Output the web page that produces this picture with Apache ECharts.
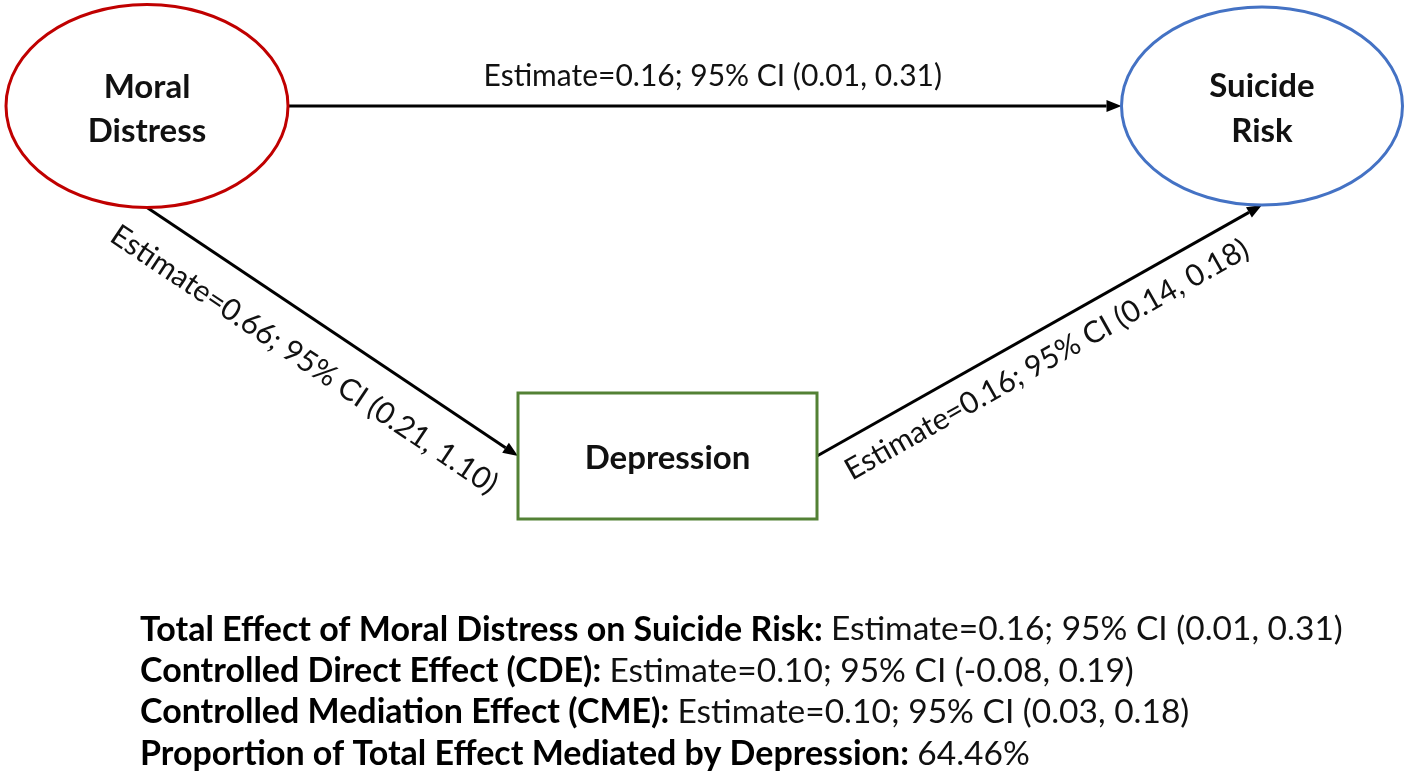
<!DOCTYPE html>
<html><head><meta charset="utf-8">
<script src="https://cdn.jsdelivr.net/npm/echarts@6/dist/echarts.min.js"></script>
<style>html,body{margin:0;padding:0;background:#fff}#c{width:1409px;height:782px}</style>
</head><body><div id="c"></div>
<script>
// ---- data ----
const nodeNames = ['Moral Distress', 'Suicide Risk', 'Depression'];
const nodeLabels = ['Moral\nDistress', 'Suicide\nRisk', 'Depression'];
const pathSources = ['Moral Distress', 'Moral Distress', 'Depression'];
const pathTargets = ['Suicide Risk', 'Depression', 'Suicide Risk'];
const pathEstimates = [0.16, 0.66, 0.16];
const pathCILower = [0.01, 0.21, 0.14];
const pathCIUpper = [0.31, 1.10, 0.18];
const effectNames = ['Total Effect of Moral Distress on Suicide Risk:', 'Controlled Direct Effect (CDE):', 'Controlled Mediation Effect (CME):'];
const effectEstimates = [0.16, 0.10, 0.10];
const effectCILower = [0.01, -0.08, 0.03];
const effectCIUpper = [0.31, 0.19, 0.18];
const proportionName = 'Proportion of Total Effect Mediated by Depression:';
const proportionMediated = 64.46;

// ---- layout (positions / sizes / styles) ----
const FONT = 'Lato, "Open Sans", sans-serif';
const nodeLayout = {
  'Moral Distress': { cx: 147, cy: 106, w: 282, h: 203, shape: 'ellipse', color: '#C00000', labelDy: 3.5 },
  'Suicide Risk':   { cx: 1262, cy: 106, w: 281, h: 198, shape: 'ellipse', color: '#4472C4', labelDy: 3 },
  'Depression':     { cx: 667.5, cy: 456, w: 299, h: 126, shape: 'rect', color: '#538135', labelDy: 2 }
};
const edgeLayout = [
  { from: 'right', to: 'left', labelOffset: -30, labelShift: 8 },
  { from: 'bottom', to: 'left', labelOffset: 39, labelShift: -8 },
  { from: 'right', to: 'bottom', labelOffset: 29, labelShift: -8 }
];
function anchor(name, side) {
  const n = nodeLayout[name];
  if (side === 'right') return [n.cx + n.w / 2, n.cy];
  if (side === 'left') return [n.cx - n.w / 2, n.cy];
  if (side === 'bottom') return [n.cx, n.cy + n.h / 2];
  return [n.cx, n.cy - n.h / 2];
}
const fmt = v => v.toFixed(2);

const nodeData = nodeNames.map((nm, i) => {
  const n = nodeLayout[nm];
  return [n.cx, n.cy, n.w, n.h, i];
});
const edgeData = pathSources.map((s, i) => {
  const a = anchor(s, edgeLayout[i].from);
  const b = anchor(pathTargets[i], edgeLayout[i].to);
  return [a[0], a[1], b[0], b[1], i];
});

const chart = echarts.init(document.getElementById('c'));
chart.setOption({
  animation: false,
  grid: { left: 0, right: 0, top: 0, bottom: 0 },
  xAxis: { type: 'value', min: 0, max: 1409, show: false },
  yAxis: { type: 'value', min: 0, max: 782, inverse: true, show: false },
  series: [
    {
      type: 'custom',
      data: edgeData,
      z: 1,
      renderItem: function (params, api) {
        const i = params.dataIndex;
        const p1 = api.coord([api.value(0), api.value(1)]);
        const p2 = api.coord([api.value(2), api.value(3)]);
        const dx = p2[0] - p1[0], dy = p2[1] - p1[1];
        const len = Math.sqrt(dx * dx + dy * dy);
        const ux = dx / len, uy = dy / len;
        const nx = -uy, ny = ux;
        const ah = 15, aw = 6;
        const base = [p2[0] - ux * ah, p2[1] - uy * ah];
        const mid = [(p1[0] + p2[0]) / 2, (p1[1] + p2[1]) / 2];
        const L = edgeLayout[i];
        let px = nx, py = ny;
        if (py < 0) { px = -px; py = -py; }
        const tx = mid[0] + px * L.labelOffset + ux * L.labelShift;
        const ty = mid[1] + py * L.labelOffset + uy * L.labelShift;
        const rot = -Math.atan2(dy, dx);
        const txt = 'Estimate=' + fmt(pathEstimates[i]) + '; 95% CI (' + fmt(pathCILower[i]) + ', ' + fmt(pathCIUpper[i]) + ')';
        return {
          type: 'group',
          children: [
            { type: 'line', shape: { x1: p1[0], y1: p1[1], x2: base[0], y2: base[1] }, style: { stroke: '#000', lineWidth: 3 } },
            { type: 'polygon', shape: { points: [p2, [base[0] + nx * aw, base[1] + ny * aw], [base[0] - nx * aw, base[1] - ny * aw]] }, style: { fill: '#000' } },
            { type: 'text', x: tx, y: ty, rotation: rot, style: { text: txt, x: 0, y: 0, align: 'center', verticalAlign: 'middle', font: '30px ' + FONT, fill: '#111' } }
          ]
        };
      }
    },
    {
      type: 'custom',
      data: nodeData,
      z: 2,
      renderItem: function (params, api) {
        const i = params.dataIndex;
        const nm = nodeNames[i];
        const n = nodeLayout[nm];
        const c = api.coord([api.value(0), api.value(1)]);
        const c2 = api.coord([api.value(0) + api.value(2) / 2, api.value(1) + api.value(3) / 2]);
        const rx = c2[0] - c[0], ry = c2[1] - c[1];
        const shape = n.shape === 'ellipse'
          ? { type: 'ellipse', shape: { cx: c[0], cy: c[1], rx: rx, ry: ry }, style: { fill: '#fff', stroke: n.color, lineWidth: 3 } }
          : { type: 'rect', shape: { x: c[0] - rx, y: c[1] - ry, width: 2 * rx, height: 2 * ry }, style: { fill: '#fff', stroke: n.color, lineWidth: 3 } };
        return {
          type: 'group',
          children: [
            shape,
            { type: 'text', style: { text: nodeLabels[i], x: c[0], y: c[1] + n.labelDy, align: 'center', verticalAlign: 'middle', font: 'bold 33px ' + FONT, lineHeight: 44.5, fill: '#111' } }
          ]
        };
      }
    }
  ],
  graphic: [
    {
      type: 'text',
      left: 140,
      top: 609,
      style: {
        text: effectNames.map((nm, i) => '{b|' + nm + ' }{r|Estimate=' + fmt(effectEstimates[i]) + '; 95% CI (' + fmt(effectCILower[i]) + ', ' + fmt(effectCIUpper[i]) + ')}').join('\n') +
          '\n{b|' + proportionName + ' }{r|' + proportionMediated.toFixed(2) + '%}',
        rich: {
          b: { font: 'bold 34px ' + FONT, fill: '#000', lineHeight: 41.4 },
          r: { font: '33.5px ' + FONT, fill: '#111', lineHeight: 41.4 }
        },
        lineHeight: 41.4
      }
    }
  ]
});
</script>
</body></html>
